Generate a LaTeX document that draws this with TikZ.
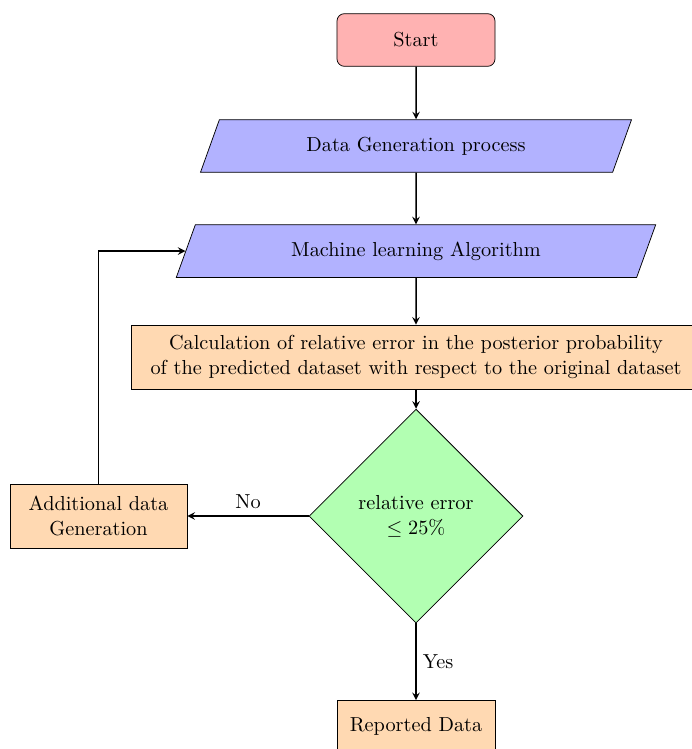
\documentclass[tikz,border=0pt]{standalone}
\usetikzlibrary{shapes.geometric,arrows.meta}
\begin{document}
\begin{tikzpicture}[
  every node/.style={font=\fontsize{10.95}{13.6}\selectfont},
  base/.style={draw, text centered, minimum height=1cm},
  startstop/.style={base, rectangle, rounded corners, minimum width=3cm, fill=red!30},
  io/.style={base, trapezium, trapezium left angle=70, trapezium right angle=110, trapezium stretches=true, fill=blue!30},
  process/.style={base, rectangle, align=center, fill=orange!30},
  decision/.style={draw, diamond, aspect=1, align=center, minimum width=4.06cm, minimum height=4.06cm, fill=green!30},
  arrow/.style={thick, ->, >=stealth}
]
\useasboundingbox (0,0) rectangle (13.12,-14.22);

\node[startstop] (start) at (7.898,-0.759) {Start};
\node[io, minimum width=8.2cm] (datagen) at (7.898,-2.772) {Data Generation process};
\node[io, minimum width=9.11cm] (ml) at (7.898,-4.766) {Machine learning Algorithm};
\node[process, minimum width=10.82cm, minimum height=1.215cm] (calc) at (7.898,-6.778)
  {Calculation of relative error in the posterior probability\\of the predicted dataset with respect to the original dataset};
\node[decision] (dec) at (7.898,-9.797) {relative error\\$\leq 25\%$};
\node[process, minimum width=3.36cm, minimum height=1.215cm] (add) at (1.870,-9.797) {Additional data\\Generation};
\node[process, minimum width=3cm, minimum height=1cm] (rep) at (7.898,-13.80) {Reported Data};

\draw[arrow] (start) -- (datagen);
\draw[arrow] (datagen) -- (ml);
\draw[arrow] (ml) -- (calc);
\draw[arrow] (calc) -- (dec);
\draw[arrow] (dec) -- node[above] {No} (add);
\draw[arrow] (dec) -- node[right] {Yes} (rep);
\draw[arrow] (add.north) |- (ml.west);
\end{tikzpicture}
\end{document}
